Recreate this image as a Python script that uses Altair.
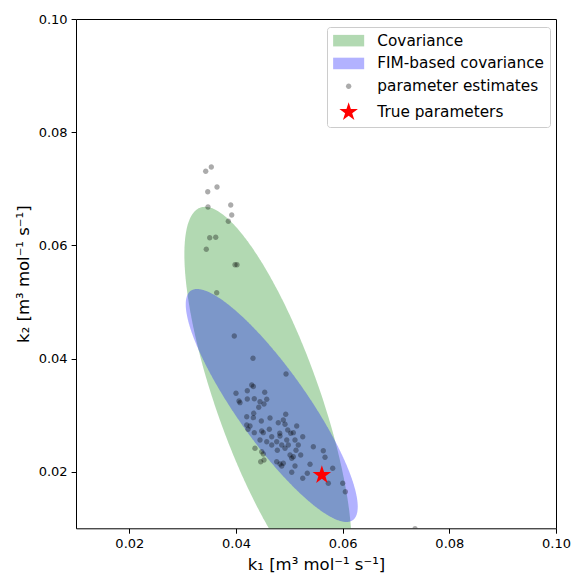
import altair as alt
import numpy as np
import pandas as pd

# Bootstrap parameter estimates (k1, k2)
k1_est = [0.03432, 0.03537, 0.03470, 0.03644, 0.03475, 0.03901, 0.03920, 0.03856,
          0.03507, 0.03620, 0.03443, 0.03981, 0.04019, 0.03638, 0.03968, 0.04319,
          0.04938, 0.04295, 0.04325, 0.04000, 0.04212, 0.04538, 0.04056, 0.04075,
          0.04212, 0.04343, 0.04450, 0.04576, 0.04525, 0.04426, 0.04332, 0.04201,
          0.04325, 0.04475, 0.04638, 0.04932, 0.04793, 0.04887, 0.04919, 0.05138,
          0.04201, 0.04263, 0.04225, 0.04482, 0.04512, 0.04625, 0.04343, 0.04820,
          0.04970, 0.05026, 0.04670, 0.04825, 0.05075, 0.05251, 0.04450, 0.04576,
          0.04670, 0.04763, 0.04857, 0.04981, 0.04951, 0.05106, 0.05168, 0.05450,
          0.05637, 0.05669, 0.04775, 0.04919, 0.05125, 0.05013, 0.05213, 0.05075,
          0.05045, 0.04887, 0.05106, 0.05388, 0.05045, 0.05337, 0.05251, 0.05813,
          0.05731, 0.06001, 0.06050, 0.04356, 0.04482, 0.04512, 0.04463, 0.04525,
          0.04763, 0.04825, 0.04857, 0.07357]
k2_est = [0.07309, 0.07385, 0.06948, 0.07031, 0.06678, 0.06713, 0.06536, 0.06425,
          0.06135, 0.06142, 0.05930, 0.05658, 0.05658, 0.05163, 0.04398, 0.04004,
          0.03727, 0.03532, 0.03506, 0.03386, 0.03432, 0.03403, 0.03250, 0.03220,
          0.03285, 0.03290, 0.03237, 0.03280, 0.03197, 0.03138, 0.03032, 0.02972,
          0.02955, 0.02896, 0.02949, 0.03015, 0.02866, 0.02914, 0.02838, 0.02808,
          0.02826, 0.02808, 0.02750, 0.02720, 0.02690, 0.02750, 0.02690, 0.02679,
          0.02737, 0.02679, 0.02619, 0.02631, 0.02690, 0.02619, 0.02561, 0.02530,
          0.02472, 0.02530, 0.02472, 0.02472, 0.02561, 0.02561, 0.02472, 0.02442,
          0.02371, 0.02255, 0.02380, 0.02414, 0.02380, 0.02296, 0.02296, 0.02265,
          0.02237, 0.02149, 0.02101, 0.02131, 0.01990, 0.01972, 0.01884, 0.02060,
          0.01795, 0.01795, 0.01647, 0.02414, 0.02354, 0.02313, 0.02177, 0.02207,
          0.02177, 0.02136, 0.02101, 0.00995]

# True parameter values
k1_true = 0.0561
k2_true = 0.0194

# Confidence ellipses: centre, covariance and chi-square scaling (95 %, 2 dof)
center_boot = [0.0460, 0.0327]
cov_boot = [[4.104e-5, -6.725e-5], [-6.725e-5, 1.9417e-4]]
center_fim = [0.0467, 0.0317]
cov_fim = [[4.340e-5, -4.812e-5], [-4.812e-5, 7.074e-5]]
chi2_95 = 5.991

entries = ["Covariance", "FIM-based covariance", "parameter estimates", "True parameters"]
entry_colors = ["rgba(0,128,0,0.3)", "rgba(0,0,255,0.3)", "rgba(0,0,0,0.33)", "#ff0000"]
FONT = "DejaVu Sans"


def ellipse_band(center, cov, scale, n=301):
    """Horizontal chords of the confidence ellipse, one per k2 value."""
    cx, cy = center
    sxx, sxy, syy = cov[0][0] * scale, cov[0][1] * scale, cov[1][1] * scale
    t = np.linspace(0.0, np.pi, n)
    ry = np.sqrt(syy)
    half = np.sqrt(sxx - sxy ** 2 / syy)
    y = cy + ry * np.cos(t)
    mid = cx + sxy / syy * (y - cy)
    w = half * np.sin(t)
    return pd.DataFrame({"k2": y, "left": mid - w, "right": mid + w}).sort_values("k2")


def star_path(R, ratio=0.381966):
    pts = []
    for k in range(10):
        r = R if k % 2 == 0 else R * ratio
        a = np.pi / 2 + k * np.pi / 5
        pts.append((r * np.cos(a), -r * np.sin(a)))
    return "M" + "L".join(f"{x:.4f},{y:.4f}" for x, y in pts) + "Z"


RECT = "M-2.07,-0.77L2.07,-0.77L2.07,0.77L-2.07,0.77Z"
DOT = "M-0.36,0A0.36,0.36 0 1,0 0.36,0A0.36,0.36 0 1,0 -0.36,0Z"
STAR = star_path(1.3)

xscale = alt.Scale(domain=[0.01, 0.10], nice=False, zero=False)
yscale = alt.Scale(domain=[0.01, 0.10], nice=False, zero=False)
ticks = [0.02, 0.04, 0.06, 0.08, 0.10]

common_axis = dict(
    values=ticks, format=".2f", grid=False, domain=False,
    tickColor="black", tickSize=4.9, tickWidth=1,
    labelFont=FONT, labelFontSize=13, labelColor="black", labelFlush=False,
    titleFont=FONT, titleFontSize=16.5, titleFontWeight="normal", titleColor="black",
)
xaxis = alt.Axis(title="k₁ [m³ mol⁻¹ s⁻¹]", labelPadding=4, titlePadding=6, **common_axis)
yaxis = alt.Axis(title="k₂ [m³ mol⁻¹ s⁻¹]", labelPadding=4, titlePadding=7, **common_axis)


def ellipse_layer(df, color):
    return alt.Chart(df).mark_area(orient="horizontal", color=color, opacity=0.3, clip=True).encode(
        y=alt.Y("k2:Q", scale=yscale, axis=yaxis),
        x=alt.X("left:Q", scale=xscale, axis=xaxis),
        x2="right:Q",
    )


boot_layer = ellipse_layer(ellipse_band(center_boot, cov_boot, chi2_95), "green")
fim_layer = ellipse_layer(ellipse_band(center_fim, cov_fim, chi2_95), "blue")

pts = pd.DataFrame({
    "k1": k1_est + [k1_true],
    "k2": k2_est + [k2_true],
    "entry": ["parameter estimates"] * len(k1_est) + ["True parameters"],
})

legend = alt.Legend(
    title=None, orient="none", legendX=251, legendY=8, padding=6,
    symbolSize=225, symbolStrokeWidth=0, symbolOffset=8,
    labelFont=FONT, labelFontSize=15.3, labelColor="black", labelOffset=21, labelLimit=400,
    rowPadding=6.8, fillColor="white", strokeColor="#cccccc", cornerRadius=3,
)

point_layer = alt.Chart(pts).mark_point(filled=True, size=225, clip=True, strokeWidth=0, opacity=1).encode(
    x=alt.X("k1:Q", scale=xscale, axis=xaxis),
    y=alt.Y("k2:Q", scale=yscale, axis=yaxis),
    color=alt.Color("entry:N", scale=alt.Scale(domain=entries, range=entry_colors), legend=legend),
    shape=alt.Shape("entry:N", scale=alt.Scale(domain=entries, range=[RECT, RECT, DOT, STAR]),
                    legend=legend),
)

chart = alt.layer(boot_layer, fim_layer, point_layer).properties(
    width=480, height=509.3,
    autosize=alt.AutoSizeParams(type="none"),
    padding={"left": 76, "top": 19, "right": 19, "bottom": 50.7},
).configure(background="white").configure_view(stroke="black", strokeWidth=1)

chart.save("out.html", embed_options={"renderer": "svg", "actions": False})
